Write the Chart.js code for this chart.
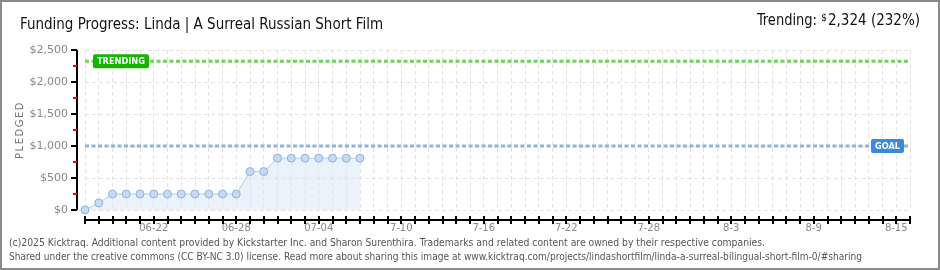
<!DOCTYPE html>
<html>
<head>
<meta charset="utf-8">
<script src="https://cdn.jsdelivr.net/npm/chart.js"></script>
<style>
body { margin: 0; background: #fff; }
canvas { display: block; }
</style>
</head>
<body>
<canvas id="myChart" width="940" height="270"></canvas>
<script>
var days = [0, 1, 2, 3, 4, 5, 6, 7, 8, 9, 10, 11, 12, 13, 14, 15, 16, 17, 18, 19, 20];
var pledged = [0, 110, 250, 250, 250, 250, 250, 250, 250, 250, 250, 250, 600, 600, 810, 810, 810, 810, 810, 810, 810];
var tickDays = [5, 11, 17, 23, 29, 35, 41, 47, 53, 59];
var tickLabels = ["06-22", "06-28", "07-04", "7-10", "7-16", "7-22", "7-28", "8-3", "8-9", "8-15"];
var yMajor = [0, 500, 1000, 1500, 2000, 2500];
var yMinor = [250, 750, 1250, 1750, 2250];
var lastDay = 60;
var goal = 1000;
var trending = 2324;
var trendingPct = "232%";

var title = "Funding Progress: Linda | A Surreal Russian Short Film";
var footer1 = "(c)2025 Kicktraq. Additional content provided by Kickstarter Inc. and Sharon Surenthira. Trademarks and related content are owned by their respective companies.";
var footer2 = "Shared under the creative commons (CC BY-NC 3.0) license. Read more about sharing this image at www.kicktraq.com/projects/lindashortfilm/linda-a-surreal-bilingual-short-film-0/#sharing";

var points = days.map(function (d, i) { return {x: d, y: pledged[i]}; });

function tag(ctx, text, x1, x2, yc, color) {
  ctx.save();
  ctx.fillStyle = color;
  ctx.beginPath();
  ctx.roundRect(x1, yc - 7, x2 - x1, 14, 2);
  ctx.fill();
  ctx.fillStyle = "#fff";
  ctx.font = 'bold 9px "DejaVu Sans"';
  ctx.textAlign = "center";
  ctx.textBaseline = "middle";
  ctx.fillText(text, (x1 + x2) / 2, yc + 0.5, x2 - x1 - 8);
  ctx.restore();
}

var kicktraq = {
  id: "kicktraq",
  beforeDraw: function (chart) {
    var ctx = chart.ctx;
    ctx.save();
    ctx.fillStyle = "#fff";
    ctx.fillRect(0, 0, chart.width, chart.height);
    ctx.restore();
  },
  afterDatasetsDraw: function (chart) {
    var ctx = chart.ctx;
    var y = chart.scales.y;
    tag(ctx, "TRENDING", 93, 149, y.getPixelForValue(trending), "#16b400");
    tag(ctx, "GOAL", 871, 904, y.getPixelForValue(goal), "#3a8ad9");
  },
  afterDraw: function (chart) {
    var ctx = chart.ctx;
    var x = chart.scales.x;
    var y = chart.scales.y;
    var area = chart.chartArea;
    ctx.save();
    // axes
    ctx.strokeStyle = "#000";
    ctx.lineWidth = 2;
    ctx.beginPath();
    ctx.moveTo(x.getPixelForValue(0) - 1, 220);
    ctx.lineTo(x.getPixelForValue(lastDay) + 1, 220);
    ctx.moveTo(77, area.top);
    ctx.lineTo(77, area.bottom);
    ctx.stroke();
    ctx.beginPath();
    for (var d = 0; d <= lastDay; d++) {
      var px = Math.round(x.getPixelForValue(d));
      ctx.moveTo(px, 216);
      ctx.lineTo(px, 224);
    }
    yMajor.forEach(function (v) {
      var py = Math.round(y.getPixelForValue(v));
      ctx.moveTo(71, py);
      ctx.lineTo(77, py);
    });
    ctx.stroke();
    ctx.strokeStyle = "#e00";
    ctx.beginPath();
    yMinor.forEach(function (v) {
      var py = Math.round(y.getPixelForValue(v));
      ctx.moveTo(73, py);
      ctx.lineTo(77, py);
    });
    ctx.stroke();

    // y title, spaced out
    ctx.save();
    ctx.translate(20, (area.top + area.bottom) / 2);
    ctx.rotate(-Math.PI / 2);
    ctx.fillStyle = "#777";
    ctx.font = '10px "DejaVu Sans"';
    ctx.letterSpacing = "1.5px";
    ctx.textAlign = "center";
    ctx.textBaseline = "middle";
    ctx.fillText("PLEDGED", 0, 0);
    ctx.restore();

    // title texts
    ctx.fillStyle = "#111";
    ctx.textBaseline = "middle";
    ctx.font = '16px "DejaVu Sans Condensed"';
    ctx.textAlign = "left";
    ctx.fillText(title, 20, 25, 363);
    ctx.textAlign = "right";
    var rest = "2,324 (" + trendingPct + ")";
    ctx.fillText(rest, 920, 21, 92);
    var restW = Math.min(ctx.measureText(rest).width, 92);
    ctx.font = '10px "DejaVu Sans Condensed"';
    ctx.fillText("$", 920 - restW - 1, 18);
    ctx.font = '16px "DejaVu Sans Condensed"';
    ctx.fillText("Trending:", 920 - restW - 11, 21, 60);

    // footer
    ctx.fillStyle = "#555";
    ctx.textAlign = "left";
    ctx.font = '11px "DejaVu Sans Condensed"';
    ctx.fillText(footer1, 9, 243, 756);
    ctx.fillText(footer2, 9, 257, 853);

    // frame
    ctx.strokeStyle = "#8a8a8a";
    ctx.lineWidth = 2;
    ctx.strokeRect(1, 1, chart.width - 2, chart.height - 2);
    ctx.restore();
  }
};

new Chart("myChart", {
  type: "line",
  data: {
    datasets: [{
      data: points,
      clip: false,
      borderColor: "#b3d0f0",
      borderWidth: 1,
      backgroundColor: "rgba(214,230,249,0.5)",
      fill: "origin",
      tension: 0,
      pointRadius: 4,
      pointBackgroundColor: "#c3dbf6",
      pointBorderColor: "#93b3d6",
      pointBorderWidth: 1
    }, {
      data: [{x: 0, y: trending}, {x: lastDay, y: trending}],
      borderColor: "#6cd457",
      borderWidth: 3,
      borderDash: [4, 2.5],
      pointRadius: 0,
      fill: false
    }, {
      data: [{x: 0, y: goal}, {x: lastDay, y: goal}],
      borderColor: "#8fb3dc",
      borderWidth: 3,
      borderDash: [4, 2.5],
      pointRadius: 0,
      fill: false
    }]
  },
  options: {
    responsive: false,
    animation: false,
    layout: {padding: {left: 0, right: 30, top: 50, bottom: 0}},
    plugins: {
      legend: {display: false},
      tooltip: {enabled: false}
    },
    scales: {
      x: {
        type: "linear",
        min: 0,
        max: lastDay,
        afterFit: function (s) { s.height = 60; },
        grid: {color: "#e2e2e2", drawTicks: false},
        border: {display: false, dash: [4, 3]},
        ticks: {
          stepSize: 1,
          autoSkip: false,
          maxRotation: 0,
          padding: 12,
          color: "#888",
          font: {family: "DejaVu Sans", size: 10},
          callback: function (v) {
            var i = tickDays.indexOf(v);
            return i < 0 ? "" : tickLabels[i];
          }
        }
      },
      y: {
        min: 0,
        max: 2500,
        afterFit: function (s) { s.width = 85; },
        afterBuildTicks: function (s) {
          s.ticks = yMajor.map(function (v) { return {value: v}; });
        },
        grid: {color: "#e2e2e2", drawTicks: false},
        border: {display: false, dash: [4, 3]},
        ticks: {
          padding: 17,
          color: "#888",
          font: {family: "DejaVu Sans", size: 11},
          callback: function (v) { return "$" + v.toLocaleString("en-US"); }
        }
      }
    }
  },
  plugins: [kicktraq]
});
</script>
</body>
</html>
